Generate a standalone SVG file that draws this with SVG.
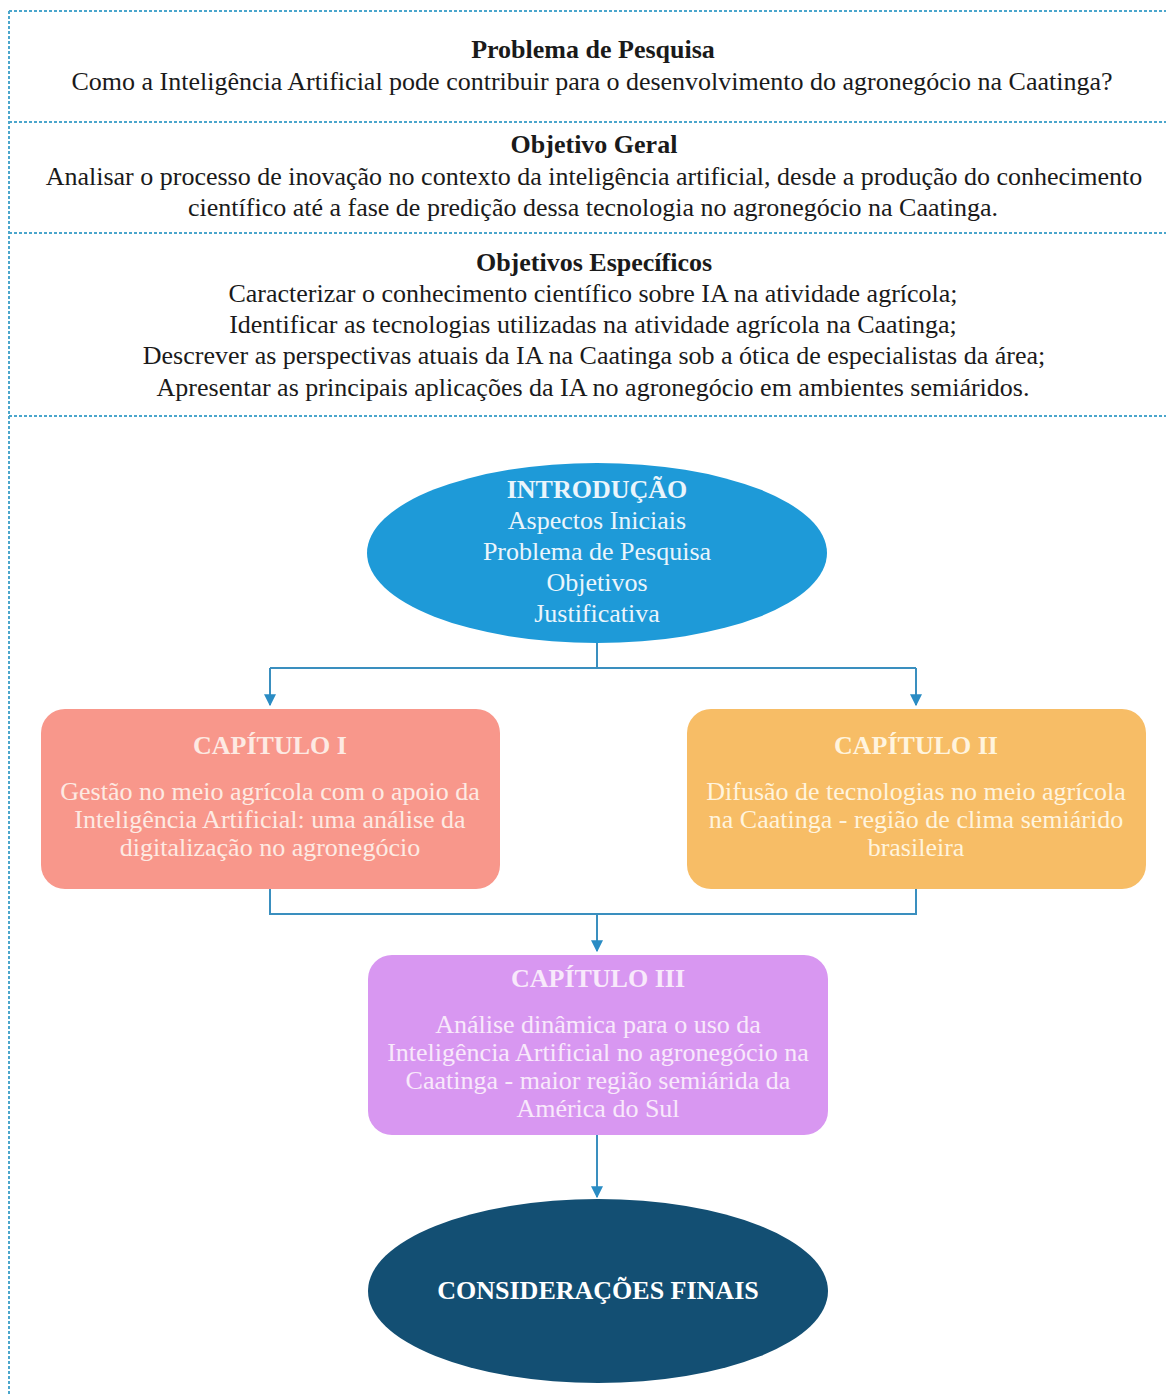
<svg xmlns="http://www.w3.org/2000/svg" width="1166" height="1394" viewBox="0 0 1166 1394">
  <style>
    text { font-family: "Liberation Serif", "Times New Roman", serif; text-anchor: middle; }
    .hd { font-size: 26px; font-weight: bold; fill: #1a1a1a; }
    .tx { font-size: 26px; fill: #1a1a1a; }
    .sep { stroke: #4aa6cc; stroke-width: 2; stroke-dasharray: 3 2; fill: none; }
    .nt { font-size: 26px; font-weight: bold; }
    .nb { font-size: 26px; }
    .conn { stroke: #3a8fbf; stroke-width: 2; fill: none; }
  </style>
  <defs>
    <marker id="arrow" viewBox="0 0 10 10" refX="9" refY="5" markerWidth="6" markerHeight="6" orient="auto">
      <path d="M0,0 L10,5 L0,10 z" fill="#2a8cc4"/>
    </marker>
  </defs>

  <rect width="1166" height="1394" fill="#ffffff"/>

  <!-- frame and section dividers -->
  <g id="frame">
    <line class="sep" x1="9" y1="11" x2="9" y2="1394"/>
    <line class="sep" x1="9" y1="11" x2="1166" y2="11"/>
    <line class="sep" x1="9" y1="122" x2="1166" y2="122"/>
    <line class="sep" x1="9" y1="233" x2="1166" y2="233"/>
    <line class="sep" x1="9" y1="416" x2="1166" y2="416" stroke-dasharray="6 1.5"/>
  </g>

  <g id="problema">
    <text class="hd" x="593" y="58">Problema de Pesquisa</text>
    <text class="tx" x="592" y="90">Como a Inteligência Artificial pode contribuir para o desenvolvimento do agronegócio na Caatinga?</text>
  </g>

  <g id="objetivo-geral">
    <text class="hd" x="594" y="153">Objetivo Geral</text>
    <text class="tx" x="594" y="185">Analisar o processo de inovação no contexto da inteligência artificial, desde a produção do conhecimento</text>
    <text class="tx" x="593" y="216">científico até a fase de predição dessa tecnologia no agronegócio na Caatinga.</text>
  </g>

  <g id="objetivos-especificos">
    <text class="hd" x="594" y="271">Objetivos Específicos</text>
    <text class="tx" x="593" y="302">Caracterizar o conhecimento científico sobre IA na atividade agrícola;</text>
    <text class="tx" x="593" y="333">Identificar as tecnologias utilizadas na atividade agrícola na Caatinga;</text>
    <text class="tx" x="594" y="364">Descrever as perspectivas atuais da IA na Caatinga sob a ótica de especialistas da área;</text>
    <text class="tx" x="593" y="396">Apresentar as principais aplicações da IA no agronegócio em ambientes semiáridos.</text>
  </g>

  <!-- connectors -->
  <g id="connectors">
    <path class="conn" d="M597,643 V668 M270,668 H916"/>
    <path class="conn" d="M270,668 V705" marker-end="url(#arrow)"/>
    <path class="conn" d="M916,668 V705" marker-end="url(#arrow)"/>
    <path class="conn" d="M270,889 V914 H916 V889"/>
    <path class="conn" d="M597,914 V951" marker-end="url(#arrow)"/>
    <path class="conn" d="M597,1135 V1197" marker-end="url(#arrow)"/>
  </g>

  <g id="introducao">
    <ellipse cx="597" cy="553" rx="230" ry="90" fill="#1e9ad8"/>
    <text class="nt" x="597" y="498" fill="#eaf5fc">INTRODUÇÃO</text>
    <text class="nb" x="597" y="529" fill="#eaf5fc">Aspectos Iniciais</text>
    <text class="nb" x="597" y="560" fill="#eaf5fc">Problema de Pesquisa</text>
    <text class="nb" x="597" y="591" fill="#eaf5fc">Objetivos</text>
    <text class="nb" x="597" y="622" fill="#eaf5fc">Justificativa</text>
  </g>

  <g id="capitulo-1">
    <rect x="41" y="709" width="459" height="180" rx="24" fill="#f8978b"/>
    <text class="nt" x="270" y="754" fill="#fdeae3">CAPÍTULO I</text>
    <text class="nb" x="270" y="800" fill="#fdeae3">Gestão no meio agrícola com o apoio da</text>
    <text class="nb" x="270" y="828" fill="#fdeae3">Inteligência Artificial: uma análise da</text>
    <text class="nb" x="270" y="856" fill="#fdeae3">digitalização no agronegócio</text>
  </g>

  <g id="capitulo-2">
    <rect x="687" y="709" width="459" height="180" rx="24" fill="#f7bd66"/>
    <text class="nt" x="916" y="754" fill="#fff4de">CAPÍTULO II</text>
    <text class="nb" x="916" y="800" fill="#fff4de">Difusão de tecnologias no meio agrícola</text>
    <text class="nb" x="916" y="828" fill="#fff4de">na Caatinga - região de clima semiárido</text>
    <text class="nb" x="916" y="856" fill="#fff4de">brasileira</text>
  </g>

  <g id="capitulo-3">
    <rect x="368" y="955" width="460" height="180" rx="24" fill="#d897f1"/>
    <text class="nt" x="598" y="987" fill="#f8e9fb">CAPÍTULO III</text>
    <text class="nb" x="598" y="1033" fill="#f8e9fb">Análise dinâmica para o uso da</text>
    <text class="nb" x="598" y="1061" fill="#f8e9fb">Inteligência Artificial no agronegócio na</text>
    <text class="nb" x="598" y="1089" fill="#f8e9fb">Caatinga - maior região semiárida da</text>
    <text class="nb" x="598" y="1117" fill="#f8e9fb">América do Sul</text>
  </g>

  <g id="consideracoes-finais">
    <ellipse cx="598" cy="1291" rx="230" ry="92" fill="#134f73"/>
    <text class="nt" x="598" y="1299" fill="#ffffff">CONSIDERAÇÕES FINAIS</text>
  </g>
</svg>
